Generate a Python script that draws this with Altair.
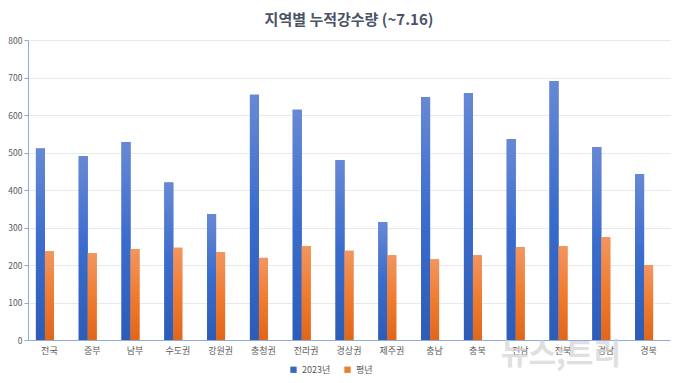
import altair as alt
import pandas as pd

regions = ["전국", "중부", "남부", "수도권", "강원권", "충청권", "전라권", "경상권",
           "제주권", "충남", "충북", "전남", "전북", "경남", "경북"]
rain_2023 = [511, 490, 528, 420, 336, 654, 614, 480, 315, 648, 659, 536, 691, 515, 443]
rain_normal = [237, 232, 243, 246, 235, 219, 251, 238, 226, 215, 226, 248, 251, 274, 200]
series = ["2023년", "평년"]

rows = []
for r, a, b in zip(regions, rain_2023, rain_normal):
    rows.append({"region": r, "series": series[0], "value": a})
    rows.append({"region": r, "series": series[1], "value": b})
df = pd.DataFrame(rows)

FONT = "Noto Sans CJK KR"
LABEL = "#595959"
AXISLINE = "#8faadc"

x = alt.X("region:N", sort=regions, title=None,
          scale=alt.Scale(paddingInner=0.37, paddingOuter=0.185),
          axis=alt.Axis(labelAngle=0, ticks=False, domainColor=AXISLINE,
                        labelColor=LABEL, labelFontSize=9, labelFont=FONT,
                        labelPadding=6, grid=False))
xo = alt.XOffset("series:N", scale=alt.Scale(domain=series + ["_"]))
y = alt.Y("value:Q", title=None,
          scale=alt.Scale(domain=[0, 800]),
          axis=alt.Axis(values=list(range(0, 801, 100)), domainColor=AXISLINE,
                        tickColor=AXISLINE, tickSize=4, labelColor=LABEL,
                        labelFontSize=8.5, labelFont=FONT, labelPadding=2,
                        gridColor="#e6e9ef"))

base = alt.Chart(df).encode(x=x, xOffset=xo, y=y)

legend_layer = base.mark_bar().encode(
    color=alt.Color("series:N",
                    scale=alt.Scale(domain=series, range=["#3a67c4", "#ed7d31"]),
                    legend=alt.Legend(title=None, orient="none", direction="horizontal",
                                      legendX=261, legendY=325, symbolType="square",
                                      symbolSize=40, labelFontSize=9, labelFont=FONT,
                                      labelColor=LABEL, columnPadding=12,
                                      symbolStrokeWidth=0))
)

blue_grad = alt.Gradient(gradient="linear",
                         stops=[alt.GradientStop(color="#6789d4", offset=0),
                                alt.GradientStop(color="#3a6ccd", offset=0.5),
                                alt.GradientStop(color="#2c5cb6", offset=1)],
                         x1=0, x2=0, y1=0, y2=1)
orange_grad = alt.Gradient(gradient="linear",
                           stops=[alt.GradientStop(color="#f29660", offset=0),
                                  alt.GradientStop(color="#f07c30", offset=0.5),
                                  alt.GradientStop(color="#e0661a", offset=1)],
                           x1=0, x2=0, y1=0, y2=1)

blue_layer = base.transform_filter(alt.datum.series == series[0]).mark_bar(color=blue_grad)
orange_layer = base.transform_filter(alt.datum.series == series[1]).mark_bar(color=orange_grad)

watermark = alt.Chart(pd.DataFrame({"t": ["뉴스;트리"]})).mark_text(
    font=FONT, fontSize=30, fontWeight="bold", color="#d4d4d4", opacity=0.7,
    align="center", baseline="middle"
).encode(text="t:N", x=alt.value(533), y=alt.value(315))

chart = alt.layer(watermark, legend_layer, blue_layer, orange_layer).properties(
    width=642, height=300,
    autosize=alt.AutoSizeParams(type="none"),
    padding={"left": 20, "top": 32, "right": 2, "bottom": 35},
    background="white",
    title=alt.Title("지역별 누적강수량 (~7.16)", font=FONT, fontSize=15,
                    fontWeight="bold", color="#4a5366", anchor="middle", offset=8),
).configure_view(stroke=None)

chart.save("out.html", embed_options={"renderer": "svg", "actions": False})
